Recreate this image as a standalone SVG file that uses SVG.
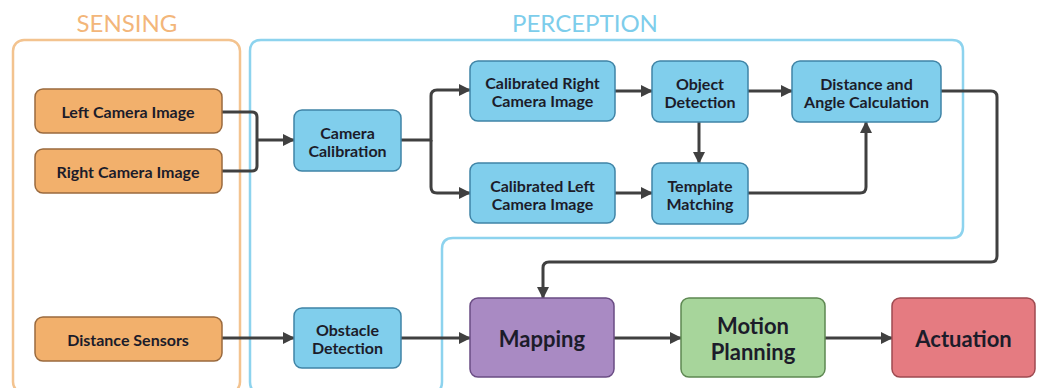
<svg xmlns="http://www.w3.org/2000/svg" width="1046" height="388" viewBox="0 0 1046 388">
<style>
  .title { font-family: Lato, "Open Sans", "Liberation Sans", sans-serif; font-size: 24px; text-anchor: middle; dominant-baseline: central; }
  .lbl { font-family: Lato, "Open Sans", "Liberation Sans", sans-serif; font-weight: bold; font-size: 16px; fill: #1c1c2a; text-anchor: middle; dominant-baseline: central; }
  .big { font-size: 22px; }
  .orange { fill: #F2B06C; stroke: #9A6A3E; stroke-width: 1.5; }
  .blue { fill: #80CEEC; stroke: #3F84A6; stroke-width: 1.5; }
  .purple { fill: #A98AC3; stroke: #6A4C84; stroke-width: 1.5; }
  .green { fill: #A7D59B; stroke: #5E8852; stroke-width: 1.5; }
  .red { fill: #E57B81; stroke: #9E4A50; stroke-width: 1.5; }
  .conn { fill: none; stroke: #404040; stroke-width: 3; }
  .arr { marker-end: url(#ah); }
</style>
<defs>
  <marker id="ah" markerUnits="userSpaceOnUse" markerWidth="12" markerHeight="12" refX="11" refY="6" orient="auto">
    <path d="M0,0 L12,6 L0,12 Z" fill="#404040"/>
  </marker>
</defs>
<rect width="1046" height="388" fill="#ffffff"/>

<g id="sensing-group">
  <rect x="13" y="40" width="227" height="353" rx="11" fill="none" stroke="#F3C38F" stroke-width="2.5"/>
  <text class="title" x="127" y="22" fill="#F3B67A">SENSING</text>
</g>
<g id="perception-group">
  <path d="M261,40 H952 Q963,40 963,51 V227 Q963,238 952,238 H453 Q442,238 442,249 V382 Q442,393 431,393 H261 Q250,393 250,382 V51 Q250,40 261,40 Z" fill="none" stroke="#8DD3EE" stroke-width="2.5"/>
  <text class="title" x="585" y="22" fill="#7DCDEB">PERCEPTION</text>
</g>

<g id="connectors">
  <path class="conn" d="M222,112 H252 Q257,112 257,117 V166 Q257,171 252,171 H222"/>
  <path class="conn arr" d="M257,140 H294"/>
  <path class="conn arr" d="M401,140 H431 V96 Q431,90 437,90 H470"/>
  <path class="conn arr" d="M431,140 V187 Q431,193 437,193 H470"/>
  <path class="conn arr" d="M615,91 H652"/>
  <path class="conn arr" d="M615,193 H652"/>
  <path class="conn arr" d="M748,91 H792"/>
  <path class="conn arr" d="M699,122 V163"/>
  <path class="conn arr" d="M748,193 H860 Q866,193 866,187 V122"/>
  <path class="conn arr" d="M941,91 H991 Q997,91 997,97 V256 Q997,262 991,262 H549 Q543,262 543,268 V298"/>
  <path class="conn arr" d="M222,338 H294"/>
  <path class="conn arr" d="M401,338 H470"/>
  <path class="conn arr" d="M614,338 H681"/>
  <path class="conn arr" d="M825,338 H892"/>
</g>

<g id="left-camera-image">
  <rect class="orange" x="35" y="89" width="187" height="44" rx="8"/>
  <text class="lbl" x="128" y="111">Left Camera Image</text>
</g>
<g id="right-camera-image">
  <rect class="orange" x="35" y="149" width="187" height="44" rx="8"/>
  <text class="lbl" x="128" y="171">Right Camera Image</text>
</g>
<g id="distance-sensors">
  <rect class="orange" x="35" y="317" width="187" height="44" rx="8"/>
  <text class="lbl" x="128" y="339">Distance Sensors</text>
</g>
<g id="camera-calibration">
  <rect class="blue" x="294" y="110" width="107" height="61" rx="8"/>
  <text class="lbl" x="347.5" y="132">Camera</text>
  <text class="lbl" x="347.5" y="150">Calibration</text>
</g>
<g id="calibrated-right">
  <rect class="blue" x="470" y="61" width="145" height="60" rx="8"/>
  <text class="lbl" x="542.5" y="82">Calibrated Right</text>
  <text class="lbl" x="542.5" y="100">Camera Image</text>
</g>
<g id="calibrated-left">
  <rect class="blue" x="470" y="163" width="145" height="60" rx="8"/>
  <text class="lbl" x="542.5" y="185">Calibrated Left</text>
  <text class="lbl" x="542.5" y="203">Camera Image</text>
</g>
<g id="object-detection">
  <rect class="blue" x="652" y="61" width="96" height="61" rx="8"/>
  <text class="lbl" x="700" y="83">Object</text>
  <text class="lbl" x="700" y="101">Detection</text>
</g>
<g id="template-matching">
  <rect class="blue" x="652" y="163" width="96" height="61" rx="8"/>
  <text class="lbl" x="700" y="185">Template</text>
  <text class="lbl" x="700" y="203">Matching</text>
</g>
<g id="distance-angle">
  <rect class="blue" x="792" y="61" width="149" height="61" rx="8"/>
  <text class="lbl" x="866.5" y="83">Distance and</text>
  <text class="lbl" x="866.5" y="101">Angle Calculation</text>
</g>
<g id="obstacle-detection">
  <rect class="blue" x="294" y="308" width="107" height="60" rx="8"/>
  <text class="lbl" x="347.5" y="329">Obstacle</text>
  <text class="lbl" x="347.5" y="347">Detection</text>
</g>
<g id="mapping">
  <rect class="purple" x="470" y="298" width="144" height="79" rx="8"/>
  <text class="lbl big" x="542" y="338">Mapping</text>
</g>
<g id="motion-planning">
  <rect class="green" x="681" y="298" width="144" height="79" rx="8"/>
  <text class="lbl big" x="753" y="325">Motion</text>
  <text class="lbl big" x="753" y="351">Planning</text>
</g>
<g id="actuation">
  <rect class="red" x="892" y="298" width="143" height="79" rx="8"/>
  <text class="lbl big" x="963.5" y="338">Actuation</text>
</g>
</svg>
